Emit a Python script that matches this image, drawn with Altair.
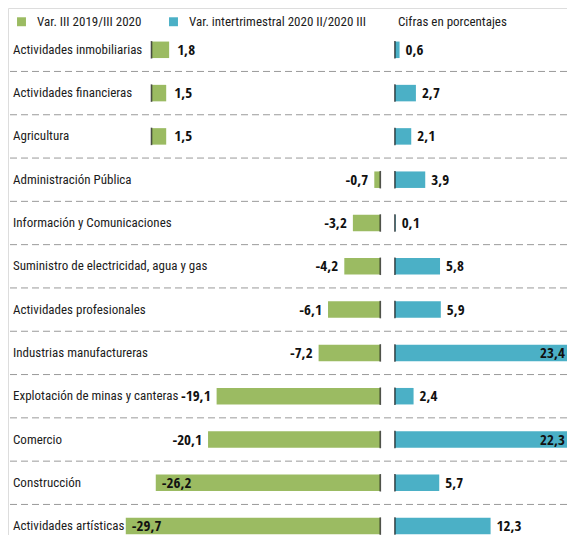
import altair as alt
import pandas as pd

categorias = [
    "Actividades inmobiliarias", "Actividades financieras", "Agricultura",
    "Administración Pública", "Información y Comunicaciones",
    "Suministro de electricidad, agua y gas", "Actividades profesionales",
    "Industrias manufactureras", "Explotación de minas y canteras",
    "Comercio", "Construcción", "Actividades artísticas",
]
var_anual = [1.8, 1.5, 1.5, -0.7, -3.2, -4.2, -6.1, -7.2, -19.1, -20.1, -26.2, -29.7]
var_trim = [0.6, 2.7, 2.1, 3.9, 0.1, 5.8, 5.9, 23.4, 2.4, 22.3, 5.7, 12.3]
series = ["Var. III 2019/III 2020", "Var. intertrimestral 2020 II/2020 III"]
nota = ["Cifras en porcentajes"]

GREEN = "#9bbb62"
BLUE = "#4bb0c6"
FONT = "Roboto Condensed"
BFONT = "Open Sans Condensed"
TXT = "#1c1c1c"
W, H = 559, 527

df_g = pd.DataFrame({"cat": categorias, "v": var_anual, "serie": series[0]})
df_b = pd.DataFrame({"cat": categorias, "v": var_trim, "serie": series[1]})
df_sep = pd.DataFrame({"cat": categorias[:-1]})
df_nota = pd.DataFrame({"t": nota})

step = 43.3
first = 41.8
yscale = alt.Scale(domain=categorias, range=[first - step / 2, first + 11 * step + step / 2],
                   paddingInner=0, paddingOuter=0)
Y = alt.Y("cat:N", scale=yscale, axis=None)

g_k = 8.57
g0 = 372.3
gpos0 = 143.5
gpos_k = 9.8
b_k = 7.78
b0 = 386.9
sc_gneg = alt.Scale(domain=[-g0 / g_k, (W - g0) / g_k], range=[0, W], nice=False, zero=False)
sc_gpos = alt.Scale(domain=[-gpos0 / gpos_k, (W - gpos0) / gpos_k], range=[0, W], nice=False, zero=False)
sc_b = alt.Scale(domain=[-b0 / b_k, (W - b0) / b_k], range=[0, W], nice=False, zero=False)

CFS = 13
color = alt.Color("serie:N", scale=alt.Scale(domain=series, range=[GREEN, BLUE]),
                  legend=alt.Legend(orient="none", legendX=7, legendY=7, direction="horizontal",
                                    title=None, symbolType="square", symbolSize=80,
                                    symbolStrokeWidth=0, labelFont=FONT, labelFontSize=CFS,
                                    labelColor=TXT, labelOffset=9, columnPadding=25,
                                    labelLimit=0, symbolOpacity=1, padding=0))

lab_expr = "(datum.v < 0 ? '-' : '') + replace(format(abs(datum.v), '.1f'), '.', ',')"
BAR_H = 16.5
LFS = 15

def vtext(base, **kw):
    return base.mark_text(font=BFONT, fontSize=LFS, fontWeight="bold", color="#111", **kw)

sep = alt.Chart(df_sep).mark_rule(color="#9a9a9a", strokeWidth=1, strokeDash=[7, 4]).encode(
    y=alt.Y("cat:N", scale=yscale, axis=None, bandPosition=1))

cat_text = alt.Chart(df_g).mark_text(align="left", font=FONT, fontSize=CFS, color=TXT).encode(
    y=Y, x=alt.value(5), text="cat:N")

nota_text = alt.Chart(df_nota).mark_text(align="left", font=FONT, fontSize=CFS, color=TXT).encode(
    x=alt.value(390), y=alt.value(14), text="t:N")

base_g = alt.Chart(df_g).transform_calculate(lab=lab_expr)
base_b = alt.Chart(df_b).transform_calculate(lab=lab_expr)

gneg = base_g.transform_filter("datum.v < 0")
gpos = base_g.transform_filter("datum.v >= 0")

gneg_bar = gneg.mark_bar(size=BAR_H).encode(
    y=Y, x=alt.X("v:Q", scale=sc_gneg, axis=None), x2=alt.datum(0), color=color)
gneg_tick = gneg.mark_tick(orient="vertical", size=BAR_H + 1, thickness=1.6, color="#111").encode(
    y=Y, x=alt.datum(0, scale=sc_gneg, axis=None))
gneg_lab_out = vtext(gneg.transform_filter("datum.v > -25"), align="right", dx=-6).encode(
    y=Y, x=alt.X("v:Q", scale=sc_gneg, axis=None), text="lab:N")
gneg_lab_in = vtext(gneg.transform_filter("datum.v <= -25"), align="left", dx=6).encode(
    y=Y, x=alt.X("v:Q", scale=sc_gneg, axis=None), text="lab:N")

gpos_bar = gpos.mark_bar(size=BAR_H).encode(
    y=Y, x=alt.X("v:Q", scale=sc_gpos, axis=None), x2=alt.datum(0), color=color)
gpos_tick = gpos.mark_tick(orient="vertical", size=BAR_H + 1, thickness=1.6, color="#111").encode(
    y=Y, x=alt.datum(0, scale=sc_gpos, axis=None))
gpos_lab = vtext(gpos, align="left", dx=8).encode(
    y=Y, x=alt.X("v:Q", scale=sc_gpos, axis=None), text="lab:N")

b_bar = base_b.mark_bar(size=BAR_H, clip=True).encode(
    y=Y, x=alt.X("v:Q", scale=sc_b, axis=None), x2=alt.datum(0), color=color)
b_tick = base_b.mark_tick(orient="vertical", size=BAR_H + 1, thickness=1.6, color="#111").encode(
    y=Y, x=alt.datum(0, scale=sc_b, axis=None))
b_lab_out = vtext(base_b.transform_filter("datum.v < 20"), align="left", dx=6).encode(
    y=Y, x=alt.X("v:Q", scale=sc_b, axis=None), text="lab:N")
b_lab_in = vtext(base_b.transform_filter("datum.v >= 20"), align="right").encode(
    y=Y, x=alt.value(W - 2), text="lab:N")

chart = alt.layer(
    sep, cat_text, nota_text,
    gneg_bar, gneg_tick, gneg_lab_out, gneg_lab_in,
    gpos_bar, gpos_tick, gpos_lab,
    b_bar, b_tick, b_lab_out, b_lab_in,
).resolve_scale(x="independent").properties(
    width=W, height=H, padding=0,
    autosize=alt.AutoSizeParams(type="none"),
).configure_view(stroke=None).configure(background="white")

chart.save("out.html", embed_options={"renderer": "svg", "actions": False})
